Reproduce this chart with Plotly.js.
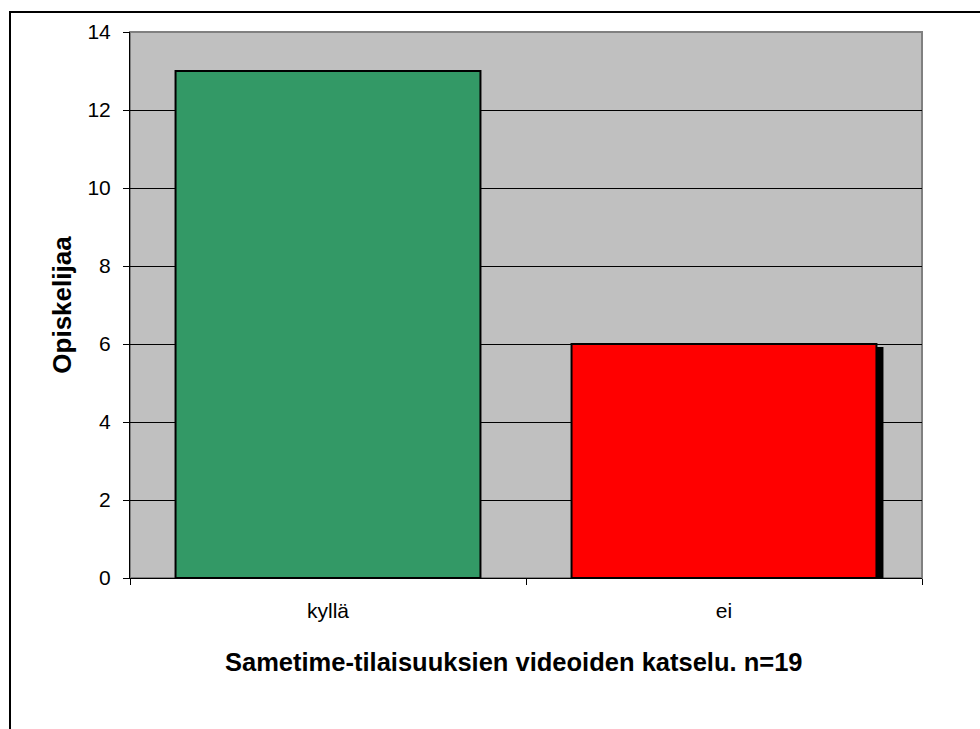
<!DOCTYPE html>
<html>
<head>
<meta charset="utf-8">
<script src="https://cdn.plot.ly/plotly-3.0.1.min.js"></script>
<style>
  html, body { margin: 0; padding: 0; background: #ffffff; overflow: hidden; }
  #wrap { position: relative; width: 980px; height: 729px; }
  /* chart frame: only left and top edges fall inside the window */
  #frame {
    position: absolute; left: 9px; top: 11px; width: 1000px; height: 760px;
    border-left: 2px solid #000; border-top: 2px solid #000;
  }
  #chart { position: absolute; left: 0; top: 0; width: 980px; height: 729px; }
  /* drop shadow on the second bar */
  #chart .trace.bars .point:nth-child(2) path { filter: drop-shadow(6px 4px 0 #000); }
</style>
</head>
<body>
<div id="wrap">
  <div id="frame"></div>
  <div id="chart"></div>
</div>
<script>
const categories = ['kyllä', 'ei'];
const students = [13, 6];
const barColors = ['#339966', '#FF0000'];
const yTicks = [0, 2, 4, 6, 8, 10, 12, 14];
const xTitle = 'Sametime-tilaisuuksien videoiden katselu. n=19';
const yTitle = 'Opiskelijaa';

const font = 'Liberation Sans, Arial, sans-serif';

const trace = {
  type: 'bar',
  x: categories,
  y: students,
  width: 0.77,
  marker: { color: barColors, line: { color: '#000000', width: 2 } },
  hoverinfo: 'x+y'
};

const layout = {
  width: 980,
  height: 729,
  margin: { l: 130, r: 58, t: 32, b: 151 },
  paper_bgcolor: 'rgba(0,0,0,0)',
  plot_bgcolor: '#C0C0C0',
  showlegend: false,
  font: { family: font, color: '#000000' },
  xaxis: {
    type: 'category',
    showline: true,
    linecolor: '#000000',
    linewidth: 1,
    ticks: 'outside',
    tickson: 'boundaries',
    ticklen: 6,
    tickcolor: '#000000',
    showgrid: false,
    tickfont: { size: 21, family: font },
    ticklabelstandoff: 14
  },
  yaxis: {
    range: [0, 14],
    tickvals: yTicks,
    ticktext: yTicks.map(String),
    showline: true,
    linecolor: '#000000',
    linewidth: 1,
    ticks: 'outside',
    ticklen: 6,
    tickcolor: '#000000',
    showgrid: true,
    gridcolor: '#000000',
    gridwidth: 1,
    zeroline: false,
    tickfont: { size: 21, family: font },
    ticklabelstandoff: 8,
    title: {
      text: yTitle,
      font: { size: 26, family: font, weight: 'bold' },
      standoff: 8
    }
  },
  // x-axis caption, set a little left of the plot centre
  annotations: [{
    text: xTitle,
    xref: 'paper', yref: 'paper',
    x: 0.5, y: 0,
    xanchor: 'center', yanchor: 'middle',
    xshift: -12, yshift: -84,
    showarrow: false,
    font: { size: 25.5, family: font, weight: 'bold', color: '#000000' }
  }],
  shapes: [{
    type: 'rect', xref: 'paper', yref: 'paper',
    x0: 0, x1: 1, y0: 0, y1: 1,
    line: { color: '#808080', width: 2 },
    layer: 'below'
  }]
};

Plotly.newPlot('chart', [trace], layout, { displayModeBar: false, staticPlot: true });
</script>
</body>
</html>
